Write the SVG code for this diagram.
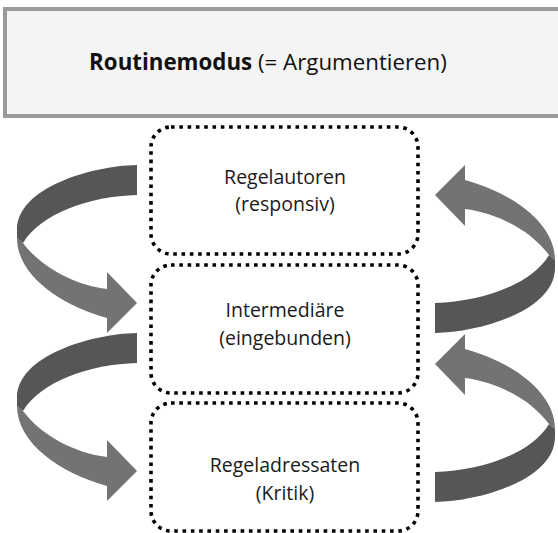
<svg xmlns="http://www.w3.org/2000/svg" xmlns:xlink="http://www.w3.org/1999/xlink" width="558" height="533" viewBox="0 0 558 533">
  <style>
    .node { fill: #ffffff; stroke: #000000; stroke-width: 3.6; stroke-dasharray: 3.6 4.7; }
    .lbl { font-family: "Open Sans", "Liberation Sans", sans-serif; font-size: 19.5px; fill: #1a1a1a; text-anchor: middle; }
    .title { font-family: "Open Sans", "Liberation Sans", sans-serif; font-size: 22.3px; fill: #111111; text-anchor: middle; }
    .dark { fill: #565656; }
    .light { fill: #737373; }
  </style>
  <defs>
    <g id="curvedArrow">
      <path class="dark" d="M137,165 C90,166 17,188 17,230 L17,238 L23,243 C40,214 90,196 137,195 Z"/>
      <path class="light" d="M17,238 C17,275 60,305 107,318 L107,333 L137,303 L107,272 L107,289 C75,285 42,268 23,243 Z"/>
    </g>
  </defs>

  <g id="header">
    <rect x="5" y="9" width="560" height="107" fill="#f4f4f4" stroke="#9a9a9a" stroke-width="4"/>
    <text class="title" x="268" y="70"><tspan font-weight="bold">Routinemodus</tspan> (= Argumentieren)</text>
  </g>

  <g id="connectors">
    <use xlink:href="#curvedArrow"/>
    <use xlink:href="#curvedArrow" transform="translate(0,168)"/>
    <use xlink:href="#curvedArrow" transform="rotate(180,286,249)"/>
    <use xlink:href="#curvedArrow" transform="translate(0,169) rotate(180,286,249)"/>
  </g>

  <g id="regelautoren">
    <rect class="node" x="151" y="127" width="267" height="127" rx="20" ry="20"/>
    <text class="lbl" x="285" y="184">Regelautoren</text>
    <text class="lbl" x="285" y="211">(responsiv)</text>
  </g>

  <g id="intermediaere">
    <rect class="node" x="151" y="265" width="267" height="128" rx="20" ry="20"/>
    <text class="lbl" x="285" y="317">Intermediäre</text>
    <text class="lbl" x="285" y="345">(eingebunden)</text>
  </g>

  <g id="regeladressaten">
    <rect class="node" x="151" y="403" width="267" height="128" rx="20" ry="20"/>
    <text class="lbl" x="285" y="472">Regeladressaten</text>
    <text class="lbl" x="285" y="500">(Kritik)</text>
  </g>
</svg>
